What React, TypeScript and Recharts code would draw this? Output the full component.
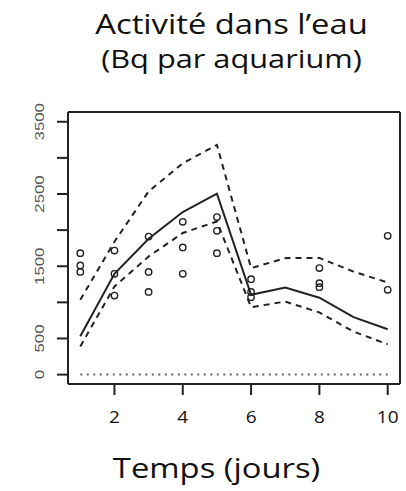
import { ComposedChart, Line, Scatter, XAxis, YAxis, ReferenceLine } from 'recharts';

// jours
const days = [1, 2, 3, 4, 5, 6, 7, 8, 9, 10];
// activité moyenne et intervalle
const meanActivity = [530, 1395, 1880, 2250, 2505, 1105, 1205, 1065, 795, 628];
const upperBound = [1035, 1840, 2535, 2925, 3180, 1474, 1612, 1615, 1425, 1275];
const lowerBound = [390, 1220, 1635, 1960, 2120, 933, 1011, 860, 595, 420];
const baseline = [0, 0, 0, 0, 0, 0, 0, 0, 0, 0];

// mesures individuelles
const obsDays = [1, 1, 1, 2, 2, 2, 3, 3, 3, 4, 4, 4, 5, 5, 5, 6, 6, 6, 8, 8, 8, 10, 10];
const obsValues = [1681, 1510, 1422, 1717, 1395, 1094, 1911, 1422, 1145, 2115, 1760, 1395, 2180, 1990, 1681, 1321, 1145, 1072, 1474, 1266, 1210, 1921, 1173];

const xTicks = [2, 4, 6, 8, 10];
const yTicks = [0, 500, 1000, 1500, 2000, 2500, 3000, 3500];
const yLabels = [0, 500, 1500, 2500, 3500];

const X_DOMAIN = [0.64, 10.36];
const Y_DOMAIN = [-130, 3635];

// layout of the chart
const W = 406;
const H = 491;
const MARGIN = {top: 112, right: 6, bottom: 67, left: 8};
const Y_AXIS_W = 60;
const X_AXIS_H = 40;

const lineData = days.map((d, i) => ({
    day: d,
    mean: meanActivity[i],
    upper: upperBound[i],
    lower: lowerBound[i],
    zero: baseline[i],
}));
const pointData = obsDays.map((d, i) => ({day: d, value: obsValues[i]}));

// box around the plot, in data coordinates
const [x0, x1] = X_DOMAIN;
const [y0, y1] = Y_DOMAIN;
const frameSegments = [
    [{x: x0, y: y0}, {x: x1, y: y0}],
    [{x: x1, y: y0}, {x: x1, y: y1}],
    [{x: x1, y: y1}, {x: x0, y: y1}],
    [{x: x0, y: y1}, {x: x0, y: y0}],
];

const YTick = (props: any) => {
    const {y, payload} = props;
    if (!yLabels.includes(payload.value)) return null;
    return (
        <text
            transform={`translate(40, ${y}) rotate(-90) scale(1.4, 1)`}
            textAnchor="middle"
            dy={4}
            fontSize={12}
            fontFamily="Liberation Sans, Arial, sans-serif"
            fill="#555"
        >
            {payload.value}
        </text>
    );
};

const XTick = (props: any) => {
    const {x, payload} = props;
    return (
        <text transform={`translate(${x}, 423) scale(1.12, 1)`} textAnchor="middle" fontSize={17}
              fontFamily="Open Sans, sans-serif" fill="#111">
            {payload.value}
        </text>
    );
};

const Circle = (props: any) => (
    <circle cx={props.cx} cy={props.cy} r={3.2} fill="none" stroke="#222" strokeWidth={1.4}/>
);

const tickStyle = {stroke: '#222', strokeWidth: 2};

export default function App() {
    return (
        <div style={{position: 'absolute', left: 0, top: 0, width: W, height: H, background: '#fff'}}>
            <div style={{position: 'absolute', left: 0, top: 0}}>
                <ComposedChart width={W} height={H} data={lineData} margin={MARGIN}>
                    <XAxis type="number" dataKey="day" domain={X_DOMAIN} ticks={xTicks}
                           allowDataOverflow axisLine={false} tickSize={11} height={X_AXIS_H}
                           tickLine={tickStyle} tick={<XTick/>}/>
                    <YAxis type="number" domain={Y_DOMAIN} ticks={yTicks} allowDataOverflow
                           axisLine={false} tickSize={11} width={Y_AXIS_W}
                           tickLine={tickStyle} tick={<YTick/>}/>
                    {frameSegments.map((seg, i) => (
                        <ReferenceLine key={`frame-${i}`} segment={seg} stroke="#222" strokeWidth={2}
                                       ifOverflow="visible"/>
                    ))}
                    <Line dataKey="zero" stroke="#666" strokeWidth={2}
                          strokeDasharray="2 4.5" dot={false} isAnimationActive={false}/>
                    <Line dataKey="upper" stroke="#222" strokeWidth={2} strokeDasharray="6 5"
                          dot={false} isAnimationActive={false}/>
                    <Line dataKey="lower" stroke="#222" strokeWidth={2} strokeDasharray="6 5"
                          dot={false} isAnimationActive={false}/>
                    <Line dataKey="mean" stroke="#222" strokeWidth={2} dot={false} isAnimationActive={false}/>
                    <Scatter data={pointData} dataKey="value" shape={<Circle/>} isAnimationActive={false}/>
                </ComposedChart>
            </div>
            <svg width={W} height={H} style={{position: 'absolute', left: 0, top: 0, pointerEvents: 'none'}}>
                <text transform="translate(231.5, 34) scale(1.17, 1)" textAnchor="middle" fontSize={28}
                      fontFamily="Open Sans, sans-serif" fill="#111">
                    Activité dans l’eau
                </text>
                <text transform="translate(231.5, 68) scale(1.23, 1)" textAnchor="middle" fontSize={25}
                      fontFamily="Open Sans, sans-serif" fill="#111">
                    (Bq par aquarium)
                </text>
                <text transform="translate(216.5, 478) scale(1.17, 1)" textAnchor="middle" fontSize={28}
                      fontFamily="Open Sans, sans-serif" fill="#111">
                    Temps (jours)
                </text>
            </svg>
        </div>
    );
}
